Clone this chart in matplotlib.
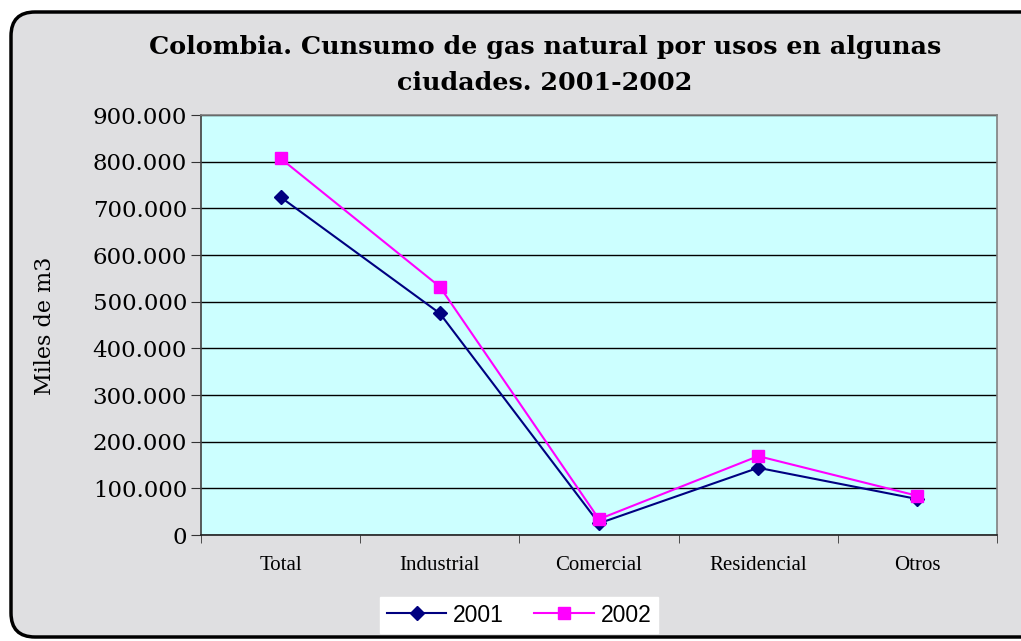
import matplotlib
matplotlib.use("Agg")
import matplotlib.pyplot as plt
from matplotlib.patches import FancyBboxPatch
from matplotlib.transforms import IdentityTransform
from matplotlib.ticker import FuncFormatter, FixedLocator

# Data (miles de m3)
categorias = ["Total", "Industrial", "Comercial", "Residencial", "Otros"]
consumo_2001 = [724000, 475000, 25000, 144000, 77000]
consumo_2002 = [807000, 532000, 34000, 169000, 84000]
y_ticks = [0, 100000, 200000, 300000, 400000, 500000, 600000, 700000, 800000, 900000]

W, H = 1021, 641
fig = plt.figure(figsize=(W / 100, H / 100), dpi=100)
fig.patch.set_facecolor("white")

# rounded marble-like frame
frame = FancyBboxPatch((11, 4), 1040, 625, boxstyle="round,pad=0,rounding_size=24",
                       transform=IdentityTransform(), facecolor="#dfdfe1",
                       edgecolor="black", linewidth=2.5, zorder=-10)
fig.patches.append(frame)

ax = fig.add_axes([201 / W, 1 - 535 / H, (997 - 201) / W, (535 - 115) / H])
ax.set_facecolor("#ccffff")

x = list(range(len(categorias)))
ax.plot(x, consumo_2001, color="#000080", marker="D", markersize=7, linewidth=1.5,
        label="2001", zorder=3)
ax.plot(x, consumo_2002, color="#ff00ff", marker="s", markersize=8, linewidth=1.5,
        label="2002", zorder=4)

ax.set_xlim(-0.5, len(categorias) - 0.5)
ax.set_ylim(0, 900000)

ax.yaxis.set_major_locator(FixedLocator(y_ticks))
ax.yaxis.set_major_formatter(FuncFormatter(lambda v, p: f"{int(v):,}".replace(",", ".")))
ax.grid(axis="y", color="black", linewidth=1)
ax.set_axisbelow(True)

ax.set_xticks(x)
ax.set_xticklabels(categorias, fontfamily="Liberation Serif", fontsize=15)
ax.set_xticks([i - 0.5 for i in range(len(categorias) + 1)], minor=True)
ax.tick_params(axis="x", which="major", length=0, pad=15)
ax.tick_params(axis="x", which="minor", length=6, direction="out", color="#333333")
ax.tick_params(axis="y", length=7, direction="out", color="#333333", pad=3)
for lab in ax.get_yticklabels():
    lab.set_fontfamily("DejaVu Serif")
    lab.set_fontsize(16.5)

for side in ["top", "right"]:
    ax.spines[side].set_color("#808080")
ax.spines["left"].set_color("#404040")
ax.spines["bottom"].set_color("#202020")
for sp in ax.spines.values():
    sp.set_linewidth(1.2)

fig.text(545 / W, 1 - 47 / H, "Colombia. Cunsumo de gas natural por usos en algunas",
         ha="center", va="center", fontfamily="DejaVu Serif", fontweight="bold", fontsize=18.3)
fig.text(545 / W, 1 - 83 / H, "ciudades. 2001-2002",
         ha="center", va="center", fontfamily="DejaVu Serif", fontweight="bold", fontsize=18.3)

fig.text(45 / W, 1 - 326 / H, "Miles de m3", rotation=90, ha="center", va="center",
         fontfamily="DejaVu Serif", fontsize=16)

leg = fig.legend(loc="center", bbox_to_anchor=(519 / W, 1 - 615 / H), ncol=2,
                 frameon=True, fancybox=False, edgecolor="white", facecolor="white",
                 framealpha=1, prop={"family": "Liberation Sans", "size": 16.5},
                 handlelength=2.6, columnspacing=1.3, handletextpad=0.3,
                 borderpad=0.3, borderaxespad=0)

fig.savefig("out.png", dpi=100)
